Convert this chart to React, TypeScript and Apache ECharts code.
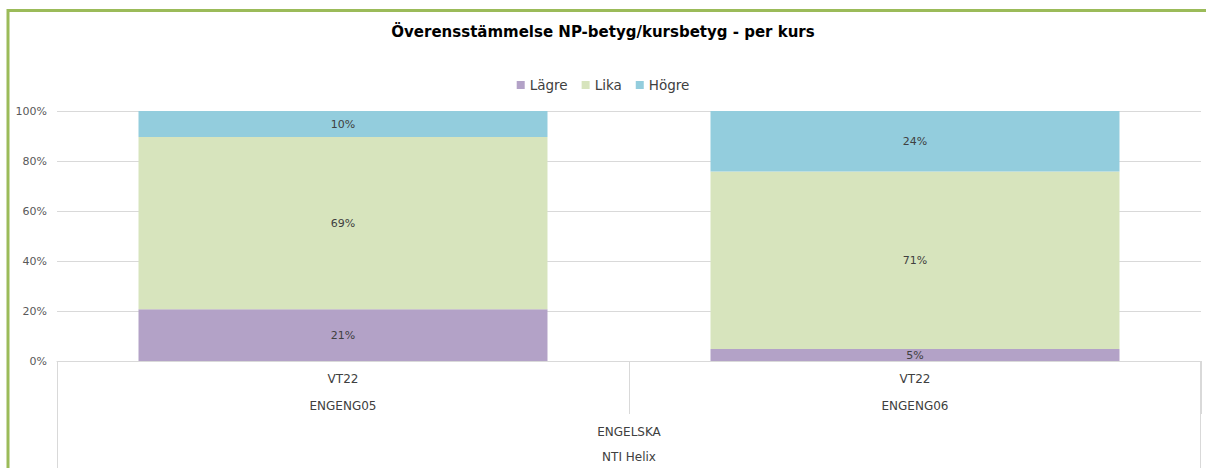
import React, { useEffect, useRef } from "react";
import * as echarts from "echarts";

const TITLE = "Överensstämmelse NP-betyg/kursbetyg - per kurs";
const terms = ["VT22", "VT22"];
const courses = ["ENGENG05", "ENGENG06"];
const subject = "ENGELSKA";
const school = "NTI Helix";
const seriesNames = ["Lägre", "Lika", "Högre"];
const lagre = [20.7, 4.8];
const lika = [68.9, 71.0];
const hogre = [10.4, 24.2];
const colors = ["#B3A2C7", "#D7E4BD", "#93CDDD"];
const yTicks = [0, 20, 40, 60, 80, 100];

const W = 1206;
const H = 468;
const GRID = { left: 57, right: 5, top: 111, bottom: 107 };
const FONT = "'DejaVu Sans', sans-serif";

export default function App() {
  const ref = useRef<HTMLDivElement>(null);
  useEffect(() => {
    document.body.style.margin = "0";
    if (!ref.current) return;
    const chart = echarts.init(ref.current, undefined, { renderer: "svg" });
    const plotLeft = GRID.left;
    const plotRight = W - GRID.right;
    const axisY = H - GRID.bottom;
    const mid = (plotLeft + plotRight) / 2;
    const values = [lagre, lika, hogre];
    chart.setOption({
      animation: false,
      textStyle: { fontFamily: FONT },
      title: {
        text: TITLE,
        left: "center",
        top: 19,
        textStyle: { fontFamily: FONT, fontSize: 15, fontWeight: "bold", color: "#000" },
      },
      legend: {
        top: 73,
        left: "center",
        itemWidth: 8,
        itemHeight: 8,
        itemGap: 14,
        icon: "rect",
        textStyle: { fontFamily: FONT, fontSize: 13.5, color: "#404040" },
        data: seriesNames,
      },
      grid: { left: GRID.left, right: GRID.right, top: GRID.top, bottom: GRID.bottom, containLabel: false },
      xAxis: {
        type: "category",
        data: courses.map((c, i) => terms[i] + "\n" + c),
        axisLine: { lineStyle: { color: "#d9d9d9", width: 1 } },
        axisTick: { show: true, length: 53, lineStyle: { color: "#d9d9d9" } },
        axisLabel: { margin: 4, fontSize: 12, lineHeight: 27, color: "#404040", fontFamily: FONT },
      },
      yAxis: {
        type: "value",
        min: 0,
        max: 100,
        interval: 20,
        axisLine: { show: false },
        axisTick: { show: false },
        splitLine: { lineStyle: { color: "#d9d9d9", width: 1 } },
        axisLabel: {
          margin: 10,
          fontSize: 11,
          color: "#595959",
          fontFamily: FONT,
          formatter: (v: number) => (yTicks.includes(v) ? v + "%" : ""),
        },
      },
      series: seriesNames.map((name, i) => ({
        name,
        type: "bar",
        stack: "total",
        barWidth: "71.5%",
        data: values[i],
        itemStyle: { color: colors[i] },
        label: {
          show: true,
          position: "inside",
          fontSize: 11,
          color: "#404040",
          fontFamily: FONT,
          formatter: (p: any) => Math.round(p.value) + "%",
        },
      })),
      graphic: [
        {
          type: "rect",
          shape: { x: 8, y: 10.5, width: 1400, height: 600 },
          style: { fill: "none", stroke: "#9BBB59", lineWidth: 3 },
          silent: true,
        },
        {
          type: "line",
          shape: { x1: plotLeft + 0.5, y1: axisY, x2: plotLeft + 0.5, y2: H },
          style: { stroke: "#d9d9d9", lineWidth: 1 },
        },
        {
          type: "line",
          shape: { x1: plotRight - 0.5, y1: axisY, x2: plotRight - 0.5, y2: H },
          style: { stroke: "#d9d9d9", lineWidth: 1 },
        },
        {
          type: "text",
          x: mid,
          y: 432,
          style: { text: subject, fontSize: 12, fill: "#404040", fontFamily: FONT, align: "center", verticalAlign: "middle" },
        },
        {
          type: "text",
          x: mid,
          y: 457,
          style: { text: school, fontSize: 12, fill: "#404040", fontFamily: FONT, align: "center", verticalAlign: "middle" },
        },
      ],
    });
    return () => chart.dispose();
  }, []);
  return <div ref={ref} style={{ width: W, height: H }} />;
}
